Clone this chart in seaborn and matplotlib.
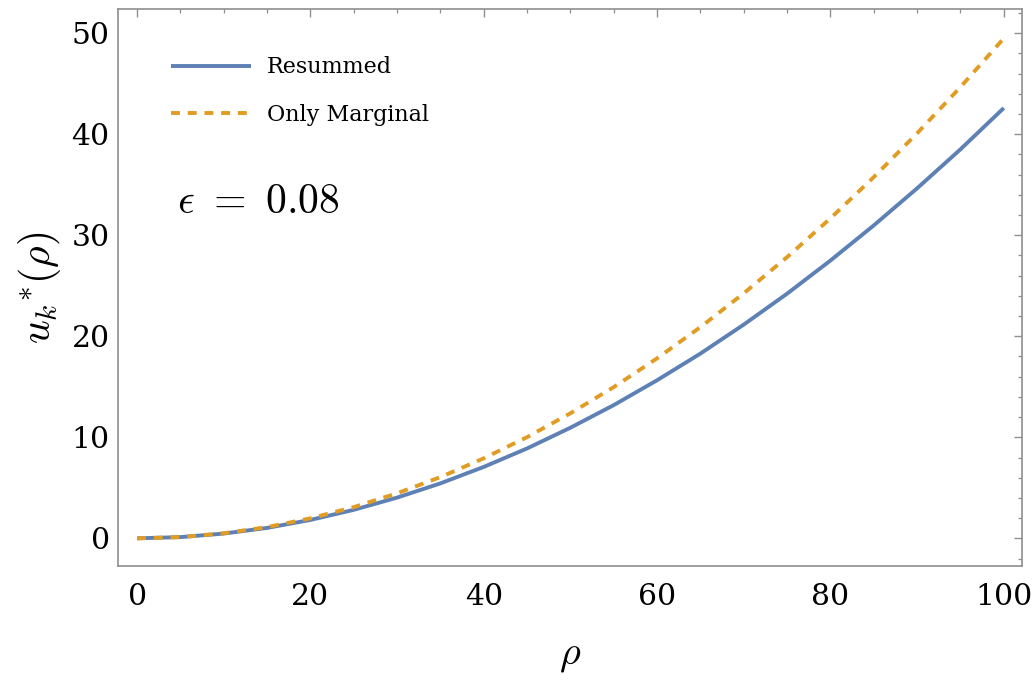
import numpy as np
import pandas as pd
import matplotlib
matplotlib.use("Agg")
import matplotlib.pyplot as plt
import seaborn as sns
from matplotlib.ticker import MultipleLocator
from matplotlib.lines import Line2D

# ---- data ----
rho = [0, 5, 10, 15, 20, 25, 30, 35, 40, 45, 50, 55, 60, 65, 70, 75, 80, 85, 90, 95, 100]
resummed = [0.0, 0.12, 0.47, 1.03, 1.82, 2.82, 4.03, 5.44, 7.07, 8.90, 10.95,
            13.19, 15.65, 18.29, 21.16, 24.22, 27.50, 30.98, 34.65, 38.51, 42.60]
only_marginal = [0.0, 0.12, 0.50, 1.11, 1.98, 3.09, 4.46, 6.06, 7.92, 10.02, 12.38,
                 14.97, 17.82, 20.91, 24.26, 27.84, 31.68, 35.76, 40.10, 44.67, 49.50]
series_names = ["Resummed", "Only Marginal"]
annotation = r"$\epsilon\ =\ 0.08$"

df = pd.DataFrame({
    "rho": rho * 2,
    "u": resummed + only_marginal,
    "series": [series_names[0]] * len(rho) + [series_names[1]] * len(rho),
})

sns.set_theme(style="white")
plt.rcParams["font.family"] = ["DejaVu Serif", "DejaVu Sans"]
plt.rcParams["mathtext.fontset"] = "cm"
plt.rcParams["text.color"] = "black"
plt.rcParams["axes.labelcolor"] = "black"

blue = "#5E81B5"
orange = "#E19C24"
frame = "#8f8f8f"
lw = 2.8
dash = (2.3, 2.0)

fig = plt.figure(figsize=(10.36, 6.80), dpi=100)
ax = fig.add_axes([118 / 1036, 1 - 566 / 680, (1022 - 118) / 1036, (566 - 9) / 680])

sns.lineplot(data=df, x="rho", y="u", hue="series", style="series",
             palette=[blue, orange], dashes=[(1, 0), dash],
             linewidth=lw, ax=ax, legend=False)
for ln in ax.get_lines():
    ln.set_dash_capstyle("butt")
    ln.set_solid_capstyle("butt")

ax.set_xlim(-2.2, 102.1)
ax.set_ylim(-2.74, 52.4)

ax.xaxis.set_major_locator(MultipleLocator(20))
ax.xaxis.set_minor_locator(MultipleLocator(5))
ax.yaxis.set_major_locator(MultipleLocator(10))
ax.yaxis.set_minor_locator(MultipleLocator(2))
ax.tick_params(which="both", direction="in", top=True, right=True,
               color=frame, labelsize=21.5, labelcolor="black")
ax.tick_params(which="major", length=5.8, width=1.0)
ax.tick_params(which="minor", length=3.2, width=0.9)
ax.tick_params(axis="x", which="major", pad=12)
ax.tick_params(axis="y", which="major", pad=6)

for sp in ax.spines.values():
    sp.set_color(frame)
    sp.set_linewidth(1.2)

ax.set_xlabel(r"$\rho$", fontsize=29, labelpad=20)
ax.set_ylabel(r"$u_k{}^{*}(\rho)$", fontsize=30, labelpad=6)

# legend
handles = [Line2D([], [], color=blue, lw=lw, solid_capstyle="butt"),
           Line2D([], [], color=orange, lw=lw, dashes=dash, dash_capstyle="butt")]
leg = ax.legend(handles, series_names, loc="upper left", frameon=False,
                bbox_to_anchor=(0.037, 0.951), handlelength=3.6, handletextpad=0.7,
                labelspacing=1.15, prop={"family": "DejaVu Serif", "size": 16})
for t in leg.get_texts():
    t.set_color("black")

ax.text(0.065, 0.655, annotation, transform=ax.transAxes, fontsize=30,
        ha="left", va="center", color="black")

fig.savefig("out.png", dpi=100)
